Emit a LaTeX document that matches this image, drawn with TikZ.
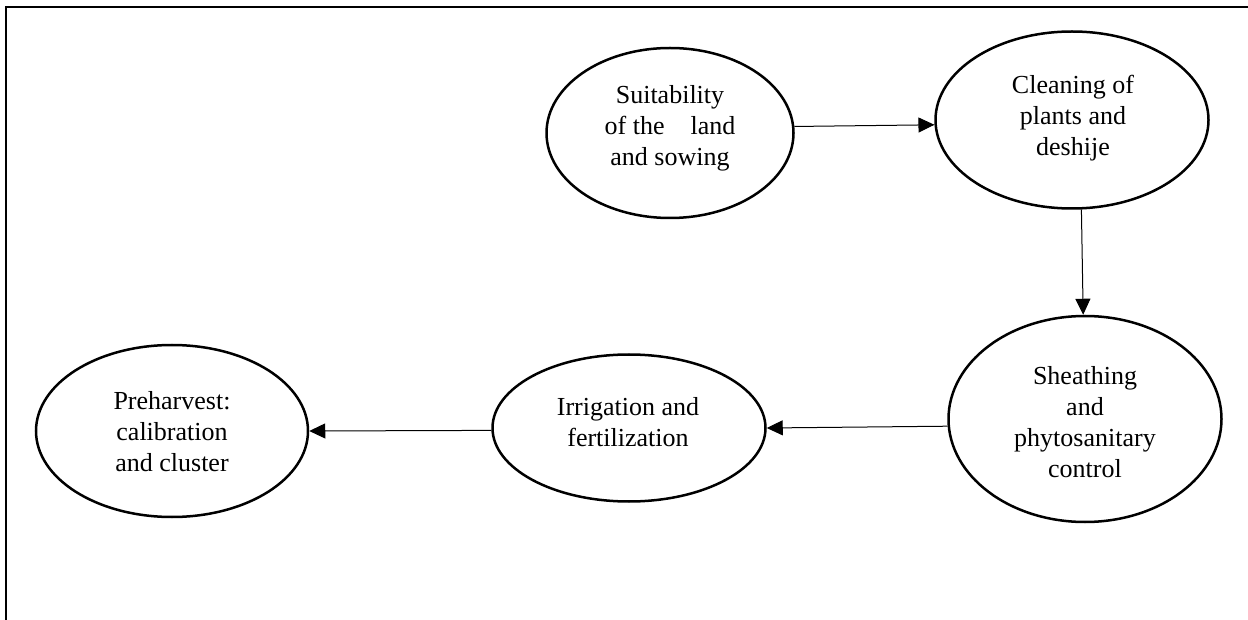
\documentclass[tikz,border=0pt]{standalone}
\usepackage{fontspec}
\setmainfont{Liberation Serif}
\usetikzlibrary{shapes.geometric,arrows.meta}
\tikzset{
  stage/.style={ellipse, draw, line width=2.5pt, inner sep=0pt},
  lbl/.style={align=center, font=\fontsize{26}{31}\selectfont, inner sep=0pt},
  conn/.style={line width=1pt, -{Triangle[length=16pt,width=15pt]}},
  frame/.style={line width=1.8pt}
}
\begin{document}
\begin{tikzpicture}[x=1pt,y=-1pt]
\useasboundingbox (0,0) rectangle (1248,620);
% frame
\coordinate (fbl) at (6,620);
\coordinate (ftl) at (6,7);
\coordinate (ftr) at (1248,7);
\draw[frame] (fbl) -- (ftl) -- (ftr);
% ellipses
\node[stage, minimum width=247pt, minimum height=170pt] (E1) at (670,133) {};
\node[stage, minimum width=273pt, minimum height=177pt] (E2) at (1072,120) {};
\node[stage, minimum width=273pt, minimum height=206pt] (E3) at (1085,419) {};
\node[stage, minimum width=273pt, minimum height=147pt] (E4) at (629,428) {};
\node[stage, minimum width=272pt, minimum height=172pt] (E5) at (172,431) {};
% texts
\node[lbl] (T1) at (670,128) {Suitability\\of the \ \ \ land\\and sowing};
\node[lbl] (T2) at (1073,118) {Cleaning of\\plants and\\deshije};
\node[lbl] (T3) at (1085,422) {Sheathing\\and\\phytosanitary\\control};
\node[lbl] (T4) at (628,422) {Irrigation and\\fertilization};
\node[lbl] (T5) at (172,432) {Preharvest:\\calibration\\and cluster};
% connectors
\draw[conn] (E1.3) -- (E2.182);
\draw[conn] (E2.-84) -- (E3.91);
\draw[conn] (E3.183) -- (E4.0);
\draw[conn] (E4.181) -- (E5.0);
\end{tikzpicture}
\end{document}
